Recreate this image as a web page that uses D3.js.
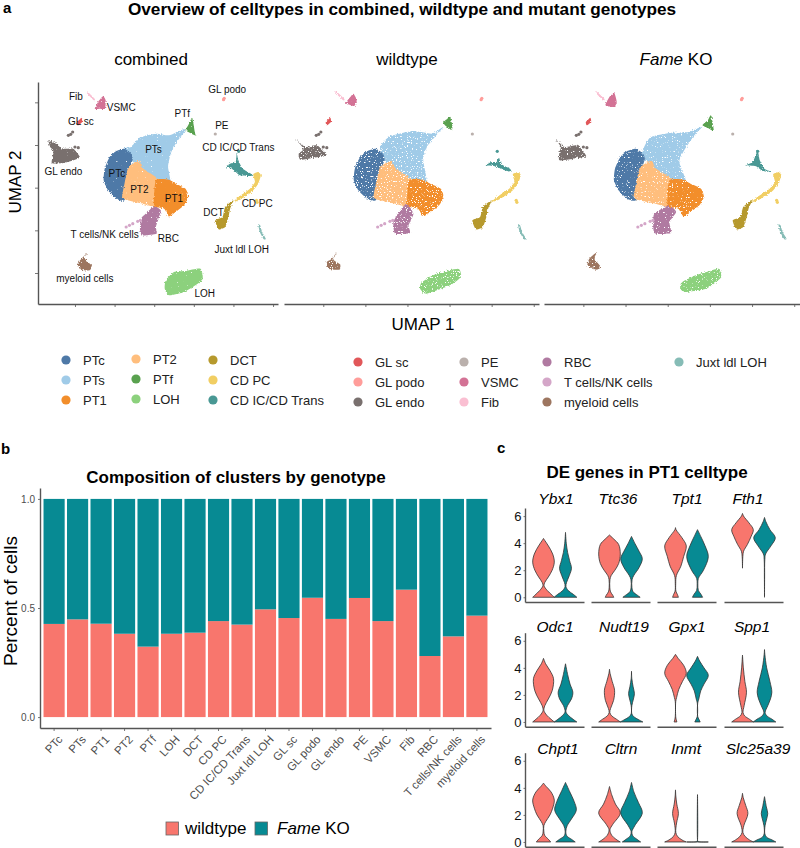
<!DOCTYPE html>
<html>
<head>
<meta charset="utf-8">
<script src="https://cdn.jsdelivr.net/npm/d3@7"></script>
<style>
  body { margin: 0; background: #fff; }
  svg { display: block; font-family: "Liberation Sans", Arial, sans-serif; }
</style>
</head>
<body>
<svg width="800" height="848"></svg>
<script>
// ---------- data ----------
const clusterNames = ['PTc', 'PTs', 'PT1', 'PT2', 'PTf', 'LOH', 'DCT', 'CD PC', 'CD IC/CD Trans', 'Juxt ldl LOH',
  'GL sc', 'GL podo', 'GL endo', 'PE', 'VSMC', 'Fib', 'RBC', 'T cells/NK cells', 'myeloid cells'];
const clusterColors = ['#4E79A7', '#A0CBE8', '#F28E2B', '#FFBE7D', '#59A14F', '#8CD17D', '#B6992D', '#F1CE63', '#499894', '#86BCB6',
  '#E15759', '#FF9D9A', '#79706E', '#BAB0AC', '#D37295', '#FABFD2', '#B07AA1', '#D4A6C8', '#9D7660'];

// share of each cluster coming from wildtype cells
const wildtypeShare = [.427, .448, .428, .382, .323, .382, .387, .44, .424, .494,
  .454, .547, .45, .546, .44, .584, .28, .37, .465];

const legendColumns = [
  ['PTc', 'PTs', 'PT1'], ['PT2', 'PTf', 'LOH'], ['DCT', 'CD PC', 'CD IC/CD Trans'],
  ['GL sc', 'GL podo', 'GL endo'], ['PE', 'VSMC', 'Fib'], ['RBC', 'T cells/NK cells', 'myeloid cells'], ['Juxt ldl LOH']
];

const umapXTicks = [0, 120, 240, 360, 480, 600];
const umapYTicks = [0, 128, 256, 384, 512];

// cluster outlines, in UMAP axis units
// (neighbouring clusters overlap a little, later ones are drawn on top)
const combinedShapes = {
  'PTs': [[165,345],[190,320],[205,315],[225,285],[250,265],[290,265],[282,318],[290,358],[305,388],[335,428],[325,430],[285,413],[245,418],[195,406],[170,378],[150,373]],
  'PTc': [[150,373],[170,358],[175,343],[170,325],[165,300],[160,268],[150,218],[125,223],[100,248],[87,278],[90,313],[105,348],[125,366]],
  'PT2': [[195,336],[207,313],[255,278],[250,200],[205,208],[160,218],[143,228],[150,268],[160,313],[175,328]],
  'RBC': [[240,201],[260,188],[255,168],[245,138],[247,118],[205,113],[197,128],[200,163],[220,183]],
  'PT1': [[245,278],[285,280],[305,268],[335,253],[343,228],[330,203],[305,183],[285,170],[270,193],[240,203]],
  'PTf': [[355,466],[363,423],[365,413],[353,418],[335,428],[343,443]],
  'LOH': [[380,13],[387,-17],[365,-37],[330,-57],[285,-67],[272,-47],[275,-22],[300,3],[335,6]],
  'myeloid cells': [[37,60],[30,43],[50,23],[45,8],[20,10],[8,28],[20,43]],
  'GL endo': [[-80,398],[-55,388],[-35,373],[-5,373],[15,348],[0,340],[-35,330],[-70,330],[-65,363],[-75,378]],
  'GL sc': [[20,466],[22,453],[10,443],[7,453]],
  'VSMC': [[85,530],[93,518],[91,493],[75,493],[60,493],[70,513]],
  'Fib': [[37,545],[60,522],[57,518],[35,541]],
  'CD IC/CD Trans': [[490,360],[495,338],[508,313],[537,296],[533,291],[500,293],[475,313],[455,318],[470,328],[487,333]],
  'DCT': [[480,218],[470,193],[465,168],[455,138],[435,131],[425,158],[447,168],[455,198]],
  'CD PC': [[555,303],[563,293],[555,268],[535,243],[500,220],[480,213],[495,228],[530,253],[545,273],[540,296]],
  'Juxt ldl LOH': [[555,146],[561,143],[567,123],[578,103],[572,101],[560,123]]
};

// outlines that differ visibly in the genotype panels
const wildtypeShapes = {
  'PTs': [[162,378],[190,410],[257,426],[309,418],[342,438],[318,408],[295,378],[285,338],[295,275],[270,262],[233,270],[200,320],[170,340]],
  'RBC': [[238,208],[257,178],[243,143],[247,120],[205,118],[200,153],[219,188]],
  'VSMC': [[86,538],[96,518],[88,501],[67,508],[62,508],[77,528]],
  'GL endo': [[-80,403],[-51,378],[-18,383],[10,353],[-27,346],[-65,340],[-70,358],[-56,373]],
  'myeloid cells': [[39,63],[29,40],[48,26],[46,10],[15,13],[10,33],[25,43]],
  'LOH': [[385,13],[392,-12],[361,-37],[295,-62],[276,-47],[281,-27],[323,-2]],
  'CD IC/CD Trans': [[501,346],[508,326],[532,313],[536,303],[513,310],[489,320],[463,323],[480,333],[494,333]],
  'PTf': [[361,470],[368,443],[366,428],[347,443],[342,453],[354,463]]
};
const koShapes = {
  'PTs': [[173,378],[192,408],[245,420],[301,423],[339,440],[316,413],[287,368],[273,333],[292,275],[264,262],[230,272],[198,322],[165,345]],
  'RBC': [[245,203],[264,183],[245,153],[249,120],[202,120],[200,173],[216,188]],
  'VSMC': [[88,540],[95,513],[88,498],[63,503],[74,528]],
  'GL endo': [[-78,403],[-54,378],[-16,383],[8,350],[-30,343],[-68,338],[-68,363],[-64,378]],
  'myeloid cells': [[39,63],[31,43],[50,18],[36,10],[12,23],[17,43]],
  'LOH': [[385,13],[391,-14],[349,-47],[287,-57],[275,-42],[282,-27],[320,-7]],
  'CD IC/CD Trans': [[496,366],[502,338],[515,313],[538,303],[510,306],[491,320],[461,323],[482,333]],
  'PTf': [[363,473],[371,428],[358,433],[339,443],[354,458]]
};

// clusters too small to outline, and stray cells
const umapSpots = [
  ['GL podo', 452, 524], ['GL podo', 450, 520], ['PE', 425, 417],
  ['GL endo', -20, 413], ['GL endo', -13, 416], ['GL endo', -7, 423], ['GL endo', 0, 378], ['GL endo', 10, 376],
  ['T cells/NK cells', 155, 138], ['T cells/NK cells', 165, 143], ['T cells/NK cells', 175, 148], ['T cells/NK cells', 190, 155], ['T cells/NK cells', 198, 158],
  ['CD PC', 550, 218], ['CD PC', 552, 212], ['CD IC/CD Trans', 496, 365]
];

// where the cluster names sit on the combined panel, in UMAP axis units
const umapLabels = [
  ['Fib', 3, 531], ['VSMC', 140, 496], ['GL sc', 18, 455], ['GL endo', -35, 306], ['PTs', 238, 370], ['PTc', 127, 300],
  ['PT2', 195, 250], ['PT1', 300, 223], ['PTf', 325, 478], ['GL podo', 461, 551], ['PE', 445, 442], ['CD IC/CD Trans', 495, 378],
  ['CD PC', 552, 208], ['DCT', 420, 183], ['T cells/NK cells', 90, 115], ['RBC', 283, 103], ['Juxt ldl LOH', 505, 70],
  ['myeloid cells', 30, -16], ['LOH', 393, -61]
];

const genotypes = ['wildtype', 'Fame KO'];
const genotypeColors = ['#F8766D', '#078A93'];

const genes = ['Ybx1', 'Ttc36', 'Tpt1', 'Fth1', 'Odc1', 'Nudt19', 'Gpx1', 'Spp1', 'Chpt1', 'Cltrn', 'Inmt', 'Slc25a39'];
const expressionTicks = [0, 2, 4, 6];

// violin outlines per gene: [expression, relative half width], wildtype then Fame KO
const violinWildtype = [
  [[0,1],[.15,.8],[.5,.35],[.85,.05],[1.1,.12],[1.5,.45],[2,.8],[2.6,1],[3.2,.85],[3.8,.45],[4.2,.12],[4.35,0]],
  [[0,.4],[.15,.3],[.4,.1],[.7,.03],[1.3,.04],[1.6,.15],[2,.5],[2.5,.85],[3.2,1],[3.9,.85],[4.3,.4],[4.6,0]],
  [[0,.27],[.2,.18],[.45,.04],[1,.02],[1.6,.08],[2.3,.5],[3,.75],[3.8,1],[4.4,.6],[5,.05],[5.15,0]],
  [[2.15,0],[3,.03],[3.4,.1],[3.9,.45],[4.5,.8],[5,1],[5.5,.6],[6,.1],[6.2,0]],
  [[0,1],[.2,.7],[.5,.3],[.85,.04],[1.2,.12],[1.7,.45],[2.3,.8],[3.2,.93],[3.8,.6],[4.3,.2],[4.7,0]],
  [[0,1],[.2,.65],[.45,.2],[.7,.03],[1,.1],[1.6,.38],[2.35,.47],[3,.25],[3.6,.05],[3.9,0]],
  [[0,.13],[.2,.06],[.4,.02],[1.5,.02],[1.8,.1],[2.4,.3],[3,.65],[3.6,1],[4.2,.75],[4.7,.25],[5,0]],
  [[0,1],[.2,.65],[.45,.2],[.7,.05],[1.2,.15],[2.2,.37],[3,.22],[4,.08],[4.95,0]],
  [[0,.67],[.2,.45],[.5,.1],[.8,.03],[1.2,.03],[1.5,.2],[2,.6],[2.5,.85],[3.1,1],[3.7,.7],[4.1,.25],[4.35,0]],
  [[0,1],[.2,.6],[.5,.2],[.9,.04],[1.3,.3],[2.15,1],[2.8,.55],[3.5,.2],[4.1,0]],
  [[0,1],[.15,.6],[.4,.2],[.7,.03],[1.4,.1],[2.1,.27],[2.8,.12],[3.4,.03],[3.85,0]],
  [[0,1],[.15,.65],[.4,.25],[.7,.04],[1.2,.12],[2.1,.5],[2.7,.3],[3.3,.06],[3.6,0]]
];
const violinKo = [
  [[0,1.05],[.2,.75],[.5,.25],[.8,.04],[1.1,.1],[1.6,.35],[2.15,.55],[2.7,.38],[3.3,.2],[4,.07],[4.8,0]],
  [[0,.8],[.15,.55],[.4,.15],[.7,.04],[1.3,.05],[1.6,.2],[2.2,.7],[2.85,1],[3.4,.7],[4,.3],[4.5,0]],
  [[0,.47],[.25,.3],[.5,.08],[1,.03],[1.4,.08],[2,.55],[3,1],[3.8,.7],[4.5,.3],[5,0]],
  [[0,0],[1.5,.01],[2.8,.03],[3.2,.1],[3.8,.6],[4.4,1],[5,.5],[5.6,.12],[5.9,0]],
  [[0,1.05],[.2,.7],[.5,.25],[.75,.04],[1.2,.18],[1.7,.55],[2.2,.68],[2.8,.42],[3.5,.2],[4.3,0]],
  [[0,1.05],[.15,.7],[.4,.2],[.6,.03],[1.2,.03],[1.7,.18],[2.1,.27],[2.6,.15],[3.2,.03],[3.75,0]],
  [[0,.25],[.2,.13],[.4,.02],[1.4,.02],[1.7,.12],[2.3,.3],[2.8,.6],[3.45,1],[4,.6],[4.5,.2],[4.85,0]],
  [[0,1.05],[.2,.7],[.45,.22],[.7,.06],[1.2,.3],[1.7,.55],[2.2,.68],[3,.5],[4,.2],[5,.03],[5.35,0]],
  [[0,.9],[.2,.55],[.45,.12],[.8,.03],[1.2,.15],[1.7,.55],[2.35,1],[3,.8],[3.7,.4],[4.4,0]],
  [[0,.85],[.2,.5],[.45,.12],[.75,.03],[1.2,.3],[2.15,1],[2.9,.65],[3.7,.22],[4.4,0]],
  [[0,1],[.03,.04],[.1,.008],[3.5,0]],
  [[0,1.05],[.15,.7],[.35,.2],[.6,.03],[1.2,.05],[1.7,.2],[2.1,.3],[2.6,.17],[3.35,0]]
];

// ---------- helpers ----------
const svg = d3.select('svg');
const colorOf = d3.scaleOrdinal().domain(clusterNames).range(clusterColors);
const AXIS_COLOR = '#555';

function addText(parent, str, x, y, size, opts = {}) {
  return parent.append('text').attr('x', x).attr('y', y)
    .attr('font-size', size)
    .attr('font-weight', opts.weight || 'normal')
    .attr('font-style', opts.italic ? 'italic' : 'normal')
    .attr('text-anchor', opts.anchor || 'start')
    .attr('fill', opts.fill || '#000')
    .text(str);
}

function fameKoText(parent, x, y, size, anchor) {
  const t = parent.append('text').attr('x', x).attr('y', y).attr('font-size', size).attr('text-anchor', anchor);
  t.append('tspan').attr('font-style', 'italic').text('Fame');
  t.append('tspan').text(' KO');
}

function styleAxis(g, labelColor, labelSize) {
  g.select('.domain').attr('stroke', AXIS_COLOR).attr('stroke-width', 1.4);
  g.selectAll('.tick line').attr('stroke', AXIS_COLOR).attr('stroke-width', .8);
  g.selectAll('.tick text').attr('fill', labelColor).attr('font-size', labelSize).attr('font-family', 'inherit');
}

// grainy filters so the outlines read as point clouds (holes get denser for the sparser panels)
const defs = svg.append('defs');
function grainFilter(id, seed, scale, slope, offset) {
  const f = defs.append('filter').attr('id', id)
    .attr('filterUnits', 'userSpaceOnUse').attr('x', 0).attr('y', 0).attr('width', 800).attr('height', 340)
    .attr('color-interpolation-filters', 'sRGB');
  f.append('feTurbulence').attr('type', 'fractalNoise').attr('baseFrequency', .8).attr('numOctaves', 1).attr('seed', seed).attr('result', 'noise');
  f.append('feDisplacementMap').attr('in', 'SourceGraphic').attr('in2', 'noise').attr('scale', scale)
    .attr('xChannelSelector', 'R').attr('yChannelSelector', 'G').attr('result', 'rough');
  f.append('feColorMatrix').attr('in', 'noise').attr('type', 'matrix')
    .attr('values', `0 0 0 0 0  0 0 0 0 0  0 0 0 0 0  ${slope} 0 0 0 ${offset}`).attr('result', 'mask');
  f.append('feComposite').attr('in', 'rough').attr('in2', 'mask').attr('operator', 'in');
}
grainFilter('grain-combined', 3, 4, 14, -3);
grainFilter('grain-wildtype', 7, 4, 14, -4.4);
grainFilter('grain-ko', 11, 4, 14, -3.9);
grainFilter('rough-edge', 5, 3.5, 14, -2.6);

// ---------- panel a ----------
addText(svg, 'a', 3, 13, 15, { weight: 'bold' });
addText(svg, 'Overview of celltypes in combined, wildtype and mutant genotypes', 402, 15, 17.2, { weight: 'bold', anchor: 'middle' });

const umapY = d3.scaleLinear().domain([-93, 573]).range([304, 82]);
const shapeLine = d3.line().curve(d3.curveCardinalClosed.tension(.45));
const sparseClusters = ['PTs', 'PTc', 'PT2', 'PT1', 'RBC', 'LOH', 'GL endo', 'myeloid cells'];

function drawUmap(range, shapes, filterId) {
  const x = d3.scaleLinear().domain([-112, 615]).range(range);
  const g = svg.append('g');
  const merged = Object.keys(combinedShapes).map(k => ({ key: k, pts: shapes[k] || combinedShapes[k] }));
  const drawShapes = (id, rows) => g.append('g').attr('filter', `url(#${id})`)
    .selectAll('path').data(rows).join('path')
    .attr('fill', d => colorOf(d.key))
    .attr('d', d => shapeLine(d.pts.map(p => [x(p[0]), umapY(p[1])])));
  drawShapes(filterId, merged.filter(d => sparseClusters.includes(d.key)));
  drawShapes('rough-edge', merged.filter(d => !sparseClusters.includes(d.key)));
  g.append('g').selectAll('circle').data(umapSpots).join('circle')
    .attr('cx', d => x(d[1])).attr('cy', d => umapY(d[2])).attr('r', 1.6)
    .attr('fill', d => colorOf(d[0]));
  const ax = g.append('g').attr('transform', `translate(0,${umapY(-93)})`)
    .call(d3.axisBottom(x).tickValues(umapXTicks).tickFormat('').tickSize(3).tickSizeOuter(0));
  styleAxis(ax, '#000', 10);
  return x;
}

const combinedX = drawUmap([38, 278], combinedShapes, 'grain-combined');
drawUmap([284, 539], wildtypeShapes, 'grain-wildtype');
drawUmap([544, 799.5], koShapes, 'grain-ko');

const umapLeft = svg.append('g').attr('transform', 'translate(38,0)')
  .call(d3.axisLeft(umapY).tickValues(umapYTicks).tickFormat('').tickSize(3).tickSizeOuter(0));
styleAxis(umapLeft, '#000', 10);

svg.append('g').selectAll('text').data(umapLabels).join('text')
  .attr('x', d => combinedX(d[1])).attr('y', d => umapY(d[2]) + 3.5)
  .attr('text-anchor', 'middle').attr('font-size', 10).attr('fill', '#111')
  .text(d => d[0]);

addText(svg, 'combined', 151, 65, 17, { anchor: 'middle' });
addText(svg, 'wildtype', 407, 65, 17, { anchor: 'middle' });
fameKoText(svg, 676, 65, 17, 'middle');
addText(svg, 'UMAP 1', 423, 330, 17, { anchor: 'middle' });
addText(svg, 'UMAP 2', 0, 0, 17, { anchor: 'middle' }).attr('transform', 'translate(21,182) rotate(-90)');

// legend
const legendDotX = [66, 136, 213, 358, 464, 547, 679];
const legendTopY = [360, 359, 360, 362, 362, 362, 362];
legendColumns.forEach((names, c) => {
  names.forEach((name, r) => {
    const y = legendTopY[c] + r * 20;
    svg.append('circle').attr('cx', legendDotX[c]).attr('cy', y).attr('r', 4.6).attr('fill', colorOf(name));
    addText(svg, name, legendDotX[c] + 17, y + 5, 13, { fill: '#222' });
  });
});

// ---------- panel b ----------
addText(svg, 'b', 1, 454, 15, { weight: 'bold' });
addText(svg, 'Composition of clusters by genotype', 236, 483, 17, { weight: 'bold', anchor: 'middle' });

const barX = d3.scaleBand().domain(clusterNames).range([40, 491]).paddingInner(.1).paddingOuter(.15);
const barY = d3.scaleLinear().domain([-.05, 1.05]).range([728, 488]);

const barRows = clusterNames.map((name, i) => ({ name, wildtype: wildtypeShare[i], 'Fame KO': 1 - wildtypeShare[i] }));
const series = d3.stack().keys(genotypes)(barRows);

svg.append('g').selectAll('g').data(series).join('g')
  .attr('fill', d => genotypeColors[genotypes.indexOf(d.key)])
  .selectAll('rect').data(d => d).join('rect')
  .attr('x', d => barX(d.data.name))
  .attr('y', d => barY(d[1]))
  .attr('width', barX.bandwidth())
  .attr('height', d => barY(d[0]) - barY(d[1]));

const barXAxis = svg.append('g').attr('transform', 'translate(0,728)')
  .call(d3.axisBottom(barX).tickSize(3).tickSizeOuter(0));
styleAxis(barXAxis, '#4d4d4d', 11.5);
barXAxis.selectAll('.tick text')
  .attr('text-anchor', 'end')
  .attr('dy', 0).attr('y', 0)
  .attr('transform', 'translate(9,12) rotate(-47)');

const barYAxis = svg.append('g').attr('transform', 'translate(40,0)')
  .call(d3.axisLeft(barY).tickValues([0, .5, 1]).tickFormat(d3.format('.1f')).tickSize(2).tickSizeOuter(0));
styleAxis(barYAxis, '#4d4d4d', 10);
addText(svg, 'Percent of cells', 0, 0, 19, { anchor: 'middle' }).attr('transform', 'translate(17,601) rotate(-90)');

// legend of panel b
[166, 255].forEach((x, i) => {
  svg.append('rect').attr('x', x).attr('y', 822).attr('width', 12.5).attr('height', 13)
    .attr('fill', genotypeColors[i]).attr('stroke', '#666').attr('stroke-width', .8);
});
addText(svg, 'wildtype', 185, 834, 17);
fameKoText(svg, 277, 834, 17, 'start');

// ---------- panel c ----------
addText(svg, 'c', 497, 453, 15, { weight: 'bold' });
addText(svg, 'DE genes in PT1 celltype', 647, 478, 17, { weight: 'bold', anchor: 'middle' });

const colLeft = [525, 591, 657, 724];
const rowTop = [508, 632.7, 752.7];
const titleY = [504, 632, 754];
const titleNudge = [1.5, -2.5, .5, -5.5, .5, 3.5, .5, -1.5, 3.5, .5, -.5, 4.5];
const colWidth = 59;
const rowHeight = 94;

const violinY = d3.scaleLinear().domain([-.35, 6.6]).range([rowHeight, 0]);
const violinX = d3.scalePoint().domain(genotypes).range([0, colWidth]).padding(.84);
const violinWidth = d3.scaleLinear().domain([0, 1]).range([0, 10.8]);
const violinArea = d3.area().curve(d3.curveCatmullRom.alpha(.5))
  .y(d => violinY(d[0]));

genes.forEach((gene, i) => {
  const col = i % 4, row = Math.floor(i / 4);
  const g = svg.append('g').attr('transform', `translate(${colLeft[col]},${rowTop[row]})`);
  addText(svg, gene, colLeft[col] + colWidth / 2 + titleNudge[i], titleY[row], 15.5, { italic: true, anchor: 'middle' });

  [violinWildtype[i], violinKo[i]].forEach((curve, k) => {
    const cx = violinX(genotypes[k]);
    violinArea.x0(d => cx - violinWidth(d[1])).x1(d => cx + violinWidth(d[1]));
    g.append('path').datum(curve)
      .attr('d', violinArea)
      .attr('fill', genotypeColors[k])
      .attr('stroke', '#333').attr('stroke-width', .8).attr('stroke-linejoin', 'round');
  });

  const base = g.append('g').attr('transform', `translate(0,${rowHeight})`)
    .call(d3.axisBottom(violinX).tickValues([]).tickSize(0).tickSizeOuter(0));
  styleAxis(base, '#000', 10);

  if (col === 0) {
    const left = g.append('g')
      .call(d3.axisLeft(violinY).tickValues(expressionTicks).tickFormat(d3.format('d')).tickSize(1.5).tickSizeOuter(0));
    styleAxis(left, '#111', 13);
    left.selectAll('.tick text').attr('x', -3.5);
  }
});
</script>
</body>
</html>
